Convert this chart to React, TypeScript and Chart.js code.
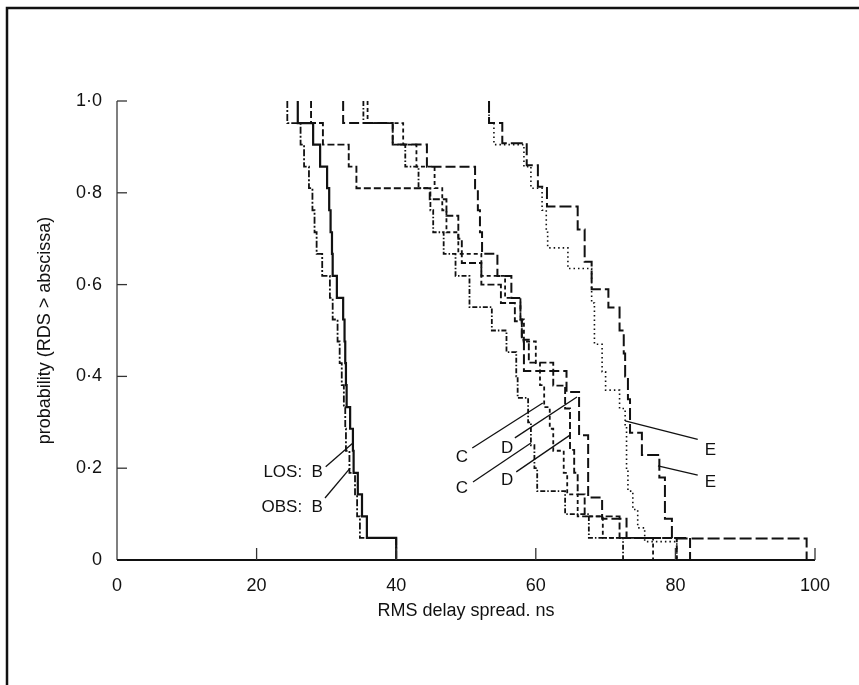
import React, { useEffect, useRef } from "react";
import { Chart, registerables } from "chart.js";

Chart.register(...registerables);

// ---------- axis data ----------
const xTicks = [0, 20, 40, 60, 80, 100];
const yTicks = [0, 0.2, 0.4, 0.6, 0.8, 1.0];
const yTickLabels = ["0", "0·2", "0·4", "0·6", "0·8", "1·0"];
const xTitle = "RMS delay spread. ns";
const yTitle = "probability (RDS > abscissa)";

// ---------- series: delay values where the curve drops, and probability after the drop ----------
const bLosX = [25.9, 28.1, 29.1, 30.1, 30.4, 30.6, 30.8, 30.9, 31.5, 32.4, 32.6, 32.7, 32.8, 32.9, 33.4, 33.8, 33.9, 34.5, 35.1, 35.8, 40.0];
const bLosP = [0.952, 0.905, 0.857, 0.810, 0.762, 0.714, 0.667, 0.619, 0.571, 0.524, 0.476, 0.429, 0.381, 0.333, 0.286, 0.238, 0.190, 0.143, 0.095, 0.048, 0];

const bObsX = [24.4, 26.3, 26.8, 27.5, 28.0, 28.3, 28.6, 29.4, 30.5, 30.9, 31.6, 31.9, 32.2, 32.5, 32.7, 32.8, 33.3, 34.1, 34.4, 34.8, 40.0];
const bObsP = [0.952, 0.905, 0.857, 0.810, 0.762, 0.714, 0.667, 0.619, 0.571, 0.524, 0.476, 0.429, 0.381, 0.333, 0.286, 0.238, 0.190, 0.143, 0.095, 0.048, 0];

const cLosX = [35.3, 39.5, 41.3, 43.2, 44.9, 45.3, 46.8, 48.5, 50.5, 53.7, 55.8, 57.2, 57.4, 58.9, 59.3, 59.8, 60.2, 64.2, 67.6, 72.5];
const cLosP = [0.952, 0.905, 0.857, 0.810, 0.762, 0.714, 0.667, 0.619, 0.551, 0.500, 0.453, 0.400, 0.353, 0.300, 0.250, 0.200, 0.150, 0.100, 0.048, 0];

const cObsX = [35.9, 41.0, 42.9, 45.5, 46.6, 47.2, 48.9, 52.2, 55.6, 57.8, 58.3, 60.0, 60.6, 61.2, 62.0, 62.5, 64.0, 64.5, 66.0, 69.6, 76.8];
const cObsP = [0.952, 0.905, 0.857, 0.810, 0.762, 0.714, 0.667, 0.619, 0.571, 0.524, 0.476, 0.429, 0.381, 0.333, 0.286, 0.238, 0.190, 0.143, 0.095, 0.048, 0];

const dLosX = [32.4, 39.5, 44.4, 51.3, 51.7, 52.0, 52.3, 54.5, 56.5, 57.8, 58.0, 58.3, 64.4, 66.2, 67.5, 69.5, 73.0, 82.1];
const dLosP = [0.952, 0.905, 0.857, 0.810, 0.762, 0.714, 0.667, 0.619, 0.571, 0.524, 0.476, 0.412, 0.366, 0.272, 0.136, 0.090, 0.048, 0];

const dObsX = [27.8, 29.5, 33.2, 34.3, 44.8, 47.2, 48.9, 49.4, 52.2, 55.0, 57.0, 58.0, 59.0, 62.5, 64.2, 64.9, 65.5, 66.0, 67.0, 72.0, 80.2];
const dObsP = [0.952, 0.905, 0.857, 0.810, 0.786, 0.750, 0.700, 0.647, 0.600, 0.560, 0.520, 0.480, 0.430, 0.380, 0.330, 0.240, 0.190, 0.143, 0.095, 0.048, 0];

const eLosX = [53.3, 54.0, 58.3, 59.3, 60.9, 61.5, 61.7, 64.6, 68.0, 68.4, 69.5, 70.0, 72.0, 72.8, 73.0, 73.2, 73.9, 74.6, 75.6, 80.2];
const eLosP = [0.952, 0.905, 0.857, 0.810, 0.762, 0.714, 0.680, 0.635, 0.560, 0.470, 0.410, 0.370, 0.330, 0.290, 0.200, 0.150, 0.110, 0.070, 0.040, 0];

const eObsX = [53.3, 55.2, 58.7, 60.3, 61.6, 66.0, 67.0, 68.0, 70.4, 72.0, 72.6, 72.8, 73.2, 73.5, 75.2, 77.7, 78.5, 79.5, 98.8];
const eObsP = [0.952, 0.908, 0.860, 0.813, 0.770, 0.720, 0.650, 0.590, 0.550, 0.500, 0.450, 0.400, 0.350, 0.277, 0.229, 0.180, 0.090, 0.047, 0];

const seriesNames = ["B LOS", "B OBS", "C LOS", "C OBS", "D LOS", "D OBS", "E LOS", "E OBS"];
const seriesX = [bLosX, bObsX, cLosX, cObsX, dLosX, dObsX, eLosX, eObsX];
const seriesP = [bLosP, bObsP, cLosP, cObsP, dLosP, dObsP, eLosP, eObsP];
const seriesDash = [[], [7, 2, 2, 2], [5, 2, 1.5, 2], [4, 3], [10, 4], [7, 3], [1.5, 3], [12, 4]];
const seriesWidth = [2.2, 1.8, 1.8, 1.8, 2, 1.9, 1.6, 2];

// ---------- annotations (data coordinates) ----------
const labelText = ["LOS:  B", "OBS:  B", "C", "D", "C", "D", "E", "E"];
const labelPos = [[29.5, 0.19], [29.5, 0.115], [49.4, 0.224], [55.9, 0.244], [49.4, 0.157], [55.9, 0.174], [85.0, 0.24], [85.0, 0.17]];
const labelAlign = ["right", "right", "center", "center", "center", "center", "center", "center"];
const leaderFrom = [[29.9, 0.203], [29.8, 0.135], [50.9, 0.244], [57.0, 0.266], [51.0, 0.170], [57.2, 0.192], [83.2, 0.263], [83.2, 0.185]];
const leaderTo = [[33.8, 0.255], [33.4, 0.200], [61.0, 0.342], [65.9, 0.355], [59.3, 0.255], [64.9, 0.272], [72.8, 0.303], [77.5, 0.205]];

const FONT = '"Liberation Sans", Arial, Helvetica, sans-serif';
const FONT_SIZE = 18;
const LABEL_SIZE = 17;

const overlayPlugin = {
  id: "overlay",
  afterDatasetsDraw(chart: any) {
    const { ctx, chartArea, scales } = chart;
    const xs = scales.x;
    const ys = scales.y;
    ctx.save();
    // outer frame
    ctx.strokeStyle = "#111";
    ctx.lineWidth = 2.5;
    ctx.beginPath();
    ctx.moveTo(7, 685);
    ctx.lineTo(7, 8);
    ctx.lineTo(859, 8);
    ctx.stroke();

    // axes
    ctx.strokeStyle = "#555";
    ctx.lineWidth = 1.5;
    ctx.beginPath();
    ctx.moveTo(chartArea.left, ys.getPixelForValue(1));
    ctx.lineTo(chartArea.left, chartArea.bottom);
    ctx.stroke();
    ctx.strokeStyle = "#111";
    ctx.lineWidth = 2;
    ctx.beginPath();
    ctx.moveTo(chartArea.left, chartArea.bottom);
    ctx.lineTo(xs.getPixelForValue(100), chartArea.bottom);
    ctx.stroke();

    // inward ticks
    ctx.lineWidth = 1.3;
    ctx.strokeStyle = "#333";
    yTicks.forEach((v) => {
      if (v === 0) return;
      const py = ys.getPixelForValue(v);
      ctx.beginPath();
      ctx.moveTo(chartArea.left, py);
      ctx.lineTo(chartArea.left + 10, py);
      ctx.stroke();
    });
    xTicks.forEach((v) => {
      if (v === 0) return;
      const px = xs.getPixelForValue(v);
      ctx.beginPath();
      ctx.moveTo(px, chartArea.bottom);
      ctx.lineTo(px, chartArea.bottom - 12);
      ctx.stroke();
    });

    // leader lines and labels
    ctx.strokeStyle = "#111";
    ctx.lineWidth = 1.3;
    ctx.fillStyle = "#111";
    ctx.font = `${LABEL_SIZE}px ${FONT}`;
    ctx.textBaseline = "middle";
    labelText.forEach((t, i) => {
      ctx.beginPath();
      ctx.moveTo(xs.getPixelForValue(leaderFrom[i][0]), ys.getPixelForValue(leaderFrom[i][1]));
      ctx.lineTo(xs.getPixelForValue(leaderTo[i][0]), ys.getPixelForValue(leaderTo[i][1]));
      ctx.stroke();
      ctx.textAlign = labelAlign[i] as CanvasTextAlign;
      ctx.fillText(t, xs.getPixelForValue(labelPos[i][0]), ys.getPixelForValue(labelPos[i][1]));
    });
    ctx.restore();
  },
};

export default function App() {
  const ref = useRef<HTMLCanvasElement | null>(null);
  useEffect(() => {
    if (!ref.current) return;
    const datasets = seriesNames.map((name, i) => ({
      label: name,
      data: [{ x: seriesX[i][0], y: 1 }, ...seriesX[i].map((x, j) => ({ x, y: seriesP[i][j] }))],
      stepped: "before" as const,
      borderColor: "#111",
      borderWidth: seriesWidth[i],
      borderDash: seriesDash[i],
      pointRadius: 0,
      fill: false,
      clip: false as any,
    }));
    const chart = new Chart(ref.current, {
      type: "line",
      data: { datasets },
      plugins: [overlayPlugin],
      options: {
        responsive: false,
        animation: false,
        devicePixelRatio: 1,
        layout: { padding: { left: 0, top: 101, right: 44, bottom: 0 } },
        plugins: { legend: { display: false }, tooltip: { enabled: false } },
        scales: {
          x: {
            type: "linear",
            min: 0,
            max: 100,
            afterFit: (s: any) => {
              s.height = 125;
            },
            afterBuildTicks: (s: any) => {
              s.ticks = xTicks.map((v) => ({ value: v }));
            },
            grid: { display: false, drawTicks: false },
            border: { display: false },
            ticks: {
              padding: 15,
              color: "#111",
              font: { family: FONT, size: FONT_SIZE },
              maxRotation: 0,
              autoSkip: false,
            },
            title: {
              display: true,
              text: xTitle,
              color: "#111",
              font: { family: FONT, size: FONT_SIZE },
              padding: { top: 0, bottom: 63 },
            },
          },
          y: {
            type: "linear",
            min: 0,
            max: 1,
            afterFit: (s: any) => {
              s.width = 117;
            },
            afterBuildTicks: (s: any) => {
              s.ticks = yTicks.map((v) => ({ value: v }));
            },
            grid: { display: false, drawTicks: false },
            border: { display: false },
            ticks: {
              padding: 15,
              color: "#111",
              font: { family: FONT, size: FONT_SIZE },
              autoSkip: false,
              callback: (v: any) => {
                const idx = yTicks.findIndex((t) => Math.abs(t - Number(v)) < 1e-6);
                return idx >= 0 ? yTickLabels[idx] : "";
              },
            },
            title: {
              display: true,
              text: yTitle,
              color: "#111",
              font: { family: FONT, size: FONT_SIZE },
              padding: { top: 34, bottom: 0 },
            },
          },
        },
      },
    });
    return () => chart.destroy();
  }, []);
  return (
    <div style={{ position: "fixed", left: 0, top: 0, width: 859, height: 685, background: "#fff" }}>
      <canvas ref={ref} width={859} height={685} style={{ display: "block", width: 859, height: 685 }} />
    </div>
  );
}
